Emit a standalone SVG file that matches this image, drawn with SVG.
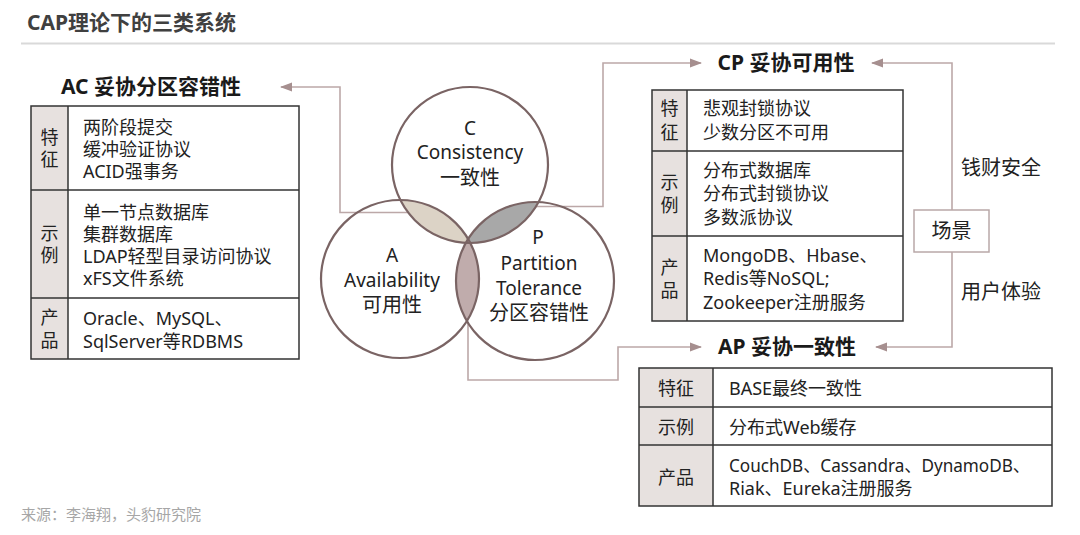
<svg xmlns="http://www.w3.org/2000/svg" width="1080" height="535" viewBox="0 0 1080 535">
<style>
text{font-family:"Noto Sans","Noto Sans CJK SC",sans-serif;fill:#222}
.ttl{font-size:21px;font-weight:bold;text-anchor:middle;fill:#1a1a1a}
.t{font-size:18px}
.lc{font-size:18px;text-anchor:middle}
.v{font-size:19px;text-anchor:middle}
.vc{font-size:20px;text-anchor:middle}
.side{font-size:20px}
.tb{fill:none;stroke:#333;stroke-width:1.5}
.hd{fill:#e7e1df}
.dv{stroke:#333;stroke-width:1.5}
.cir{fill:none;stroke:#7a6464;stroke-width:2.2}
.con{fill:none;stroke:#bca8a8;stroke-width:1.6}
</style>
<defs>
<marker id="ah" markerUnits="userSpaceOnUse" markerWidth="12" markerHeight="10" refX="11" refY="5" orient="auto">
<path d="M0,0.5 L12,5 L0,9.5 Z" fill="#a68f8f"/>
</marker>
<clipPath id="cA"><circle cx="400" cy="279" r="79"/></clipPath>
<clipPath id="cC"><circle cx="470" cy="165" r="78"/></clipPath>
<clipPath id="cP"><circle cx="535" cy="281" r="79"/></clipPath>
</defs>
<rect width="1080" height="535" fill="#fff"/>
<g id="header">
<text x="27" y="30" style="font-size:21px;font-weight:bold;fill:#404040">CAP理论下的三类系统</text>
<line x1="21" y1="43.5" x2="1055" y2="43.5" stroke="#d9d9d9" stroke-width="2"/>
</g>
<g id="connectors">
<path class="con" d="M422 212.5 H340 V87 H281" marker-end="url(#ah)"/>
<path class="con" d="M535 206.5 H603 V63 H701" marker-end="url(#ah)"/>
<path class="con" d="M468 322 V380 H618 V347 H701" marker-end="url(#ah)"/>
<path class="con" d="M952 210 V63 H872" marker-end="url(#ah)"/>
<path class="con" d="M952 252 V347 H876" marker-end="url(#ah)"/>
</g>
<g id="venn">
<circle cx="470" cy="165" r="78" fill="#dcd3c6" clip-path="url(#cA)"/>
<circle cx="470" cy="165" r="78" fill="#a8a8a8" clip-path="url(#cP)"/>
<circle cx="400" cy="279" r="79" fill="#c0acac" clip-path="url(#cP)"/>
<circle class="cir" cx="470" cy="165" r="78"/>
<circle class="cir" cx="400" cy="279" r="79"/>
<circle class="cir" cx="535" cy="281" r="79"/>
</g>
<g id="node-C">
<text class="v" x="470" y="135">C</text>
<text class="v" x="470" y="159">Consistency</text>
<text class="vc" x="470" y="185">一致性</text>
</g>
<g id="node-A">
<text class="v" x="392" y="262">A</text>
<text class="v" x="392" y="287">Availability</text>
<text class="vc" x="392" y="312">可用性</text>
</g>
<g id="node-P">
<text class="v" x="538" y="244">P</text>
<text class="v" x="539" y="270">Partition</text>
<text class="v" x="539" y="295">Tolerance</text>
<text class="vc" x="539" y="320">分区容错性</text>
</g>
<g id="node-AC">
<text class="ttl" x="151" y="94">AC 妥协分区容错性</text>
<rect class="hd" x="31" y="106" width="37" height="253"/>
<rect class="tb" x="31" y="106" width="268" height="253"/>
<line class="dv" x1="68" y1="106" x2="68" y2="359"/>
<line class="dv" x1="31" y1="190" x2="299" y2="190"/>
<line class="dv" x1="31" y1="298" x2="299" y2="298"/>
<text class="lc" x="49.5" y="143.5">特</text>
<text class="lc" x="49.5" y="165.5">征</text>
<text class="t" x="83" y="133.5">两阶段提交</text>
<text class="t" x="83" y="155.5">缓冲验证协议</text>
<text class="t" x="83" y="177.5">ACID强事务</text>
<text class="lc" x="49.5" y="239.5">示</text>
<text class="lc" x="49.5" y="261.5">例</text>
<text class="t" x="83" y="218.5">单一节点数据库</text>
<text class="t" x="83" y="240.5">集群数据库</text>
<text class="t" x="83" y="262.5">LDAP轻型目录访问协议</text>
<text class="t" x="83" y="284.5">xFS文件系统</text>
<text class="lc" x="49.5" y="324">产</text>
<text class="lc" x="49.5" y="347">品</text>
<text class="t" x="83" y="324.5">Oracle、MySQL、</text>
<text class="t" x="83" y="347.5">SqlServer等RDBMS</text>
</g>
<g id="node-CP">
<text class="ttl" x="786" y="70">CP 妥协可用性</text>
<rect class="hd" x="652" y="90" width="35" height="231"/>
<rect class="tb" x="652" y="90" width="251" height="231"/>
<line class="dv" x1="687" y1="90" x2="687" y2="321"/>
<line class="dv" x1="652" y1="151" x2="903" y2="151"/>
<line class="dv" x1="652" y1="236" x2="903" y2="236"/>
<text class="lc" x="669.5" y="114.5">特</text>
<text class="lc" x="669.5" y="138.5">征</text>
<text class="t" x="703" y="114.5">悲观封锁协议</text>
<text class="t" x="703" y="138.5">少数分区不可用</text>
<text class="lc" x="669.5" y="188.5">示</text>
<text class="lc" x="669.5" y="211.5">例</text>
<text class="t" x="703" y="176.5">分布式数据库</text>
<text class="t" x="703" y="199.5">分布式封锁协议</text>
<text class="t" x="703" y="223.5">多数派协议</text>
<text class="lc" x="669.5" y="273.5">产</text>
<text class="lc" x="669.5" y="296.5">品</text>
<text class="t" x="703" y="261.5">MongoDB、Hbase、</text>
<text class="t" x="703" y="284.5">Redis等NoSQL;</text>
<text class="t" x="703" y="308.5">Zookeeper注册服务</text>
</g>
<g id="node-AP">
<text class="ttl" x="787" y="354">AP 妥协一致性</text>
<rect class="hd" x="639" y="368" width="74" height="138"/>
<rect class="tb" x="639" y="368" width="413" height="138"/>
<line class="dv" x1="713" y1="368" x2="713" y2="506"/>
<line class="dv" x1="639" y1="407" x2="1052" y2="407"/>
<line class="dv" x1="639" y1="445" x2="1052" y2="445"/>
<text class="lc" x="676" y="394.5">特征</text>
<text class="lc" x="676" y="433.5">示例</text>
<text class="lc" x="676" y="483.5">产品</text>
<text class="t" x="729" y="394.5">BASE最终一致性</text>
<text class="t" x="729" y="433.5">分布式Web缓存</text>
<text class="t" x="729" y="471.5" textLength="301" lengthAdjust="spacingAndGlyphs">CouchDB、Cassandra、DynamoDB、</text>
<text class="t" x="729" y="494.5">Riak、Eureka注册服务</text>
</g>
<g id="node-scene">
<rect x="914" y="210" width="75" height="42" fill="#fff" stroke="#b9a8a8" stroke-width="1.5"/>
<text class="side" x="951.5" y="238" text-anchor="middle">场景</text>
</g>
<g id="labels">
<text class="side" x="961" y="175">钱财安全</text>
<text class="side" x="961" y="299">用户体验</text>
</g>
<g id="footer">
<text x="21" y="520" style="font-size:15px;fill:#a6a6a6">来源：李海翔，头豹研究院</text>
</g>
</svg>
